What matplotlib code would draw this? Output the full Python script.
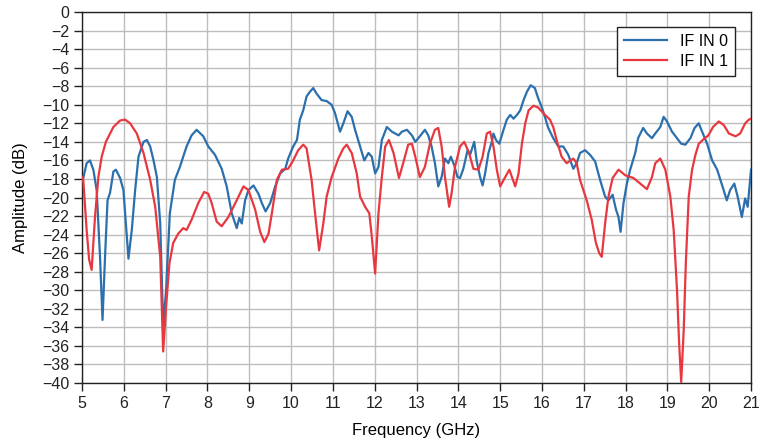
import matplotlib
matplotlib.use("Agg")
import matplotlib.pyplot as plt

plt.rcParams['font.family'] = ['Liberation Sans', 'DejaVu Sans']

# IF IN 0 (blue)
freq0 = [5.00, 5.03, 5.11, 5.19, 5.27, 5.35, 5.43, 5.49, 5.55, 5.61, 5.67, 5.75, 5.81, 5.91, 5.99,
         6.11, 6.19, 6.27, 6.35, 6.47, 6.55, 6.63, 6.71, 6.79, 6.87, 6.94, 7.01, 7.10, 7.22, 7.34,
         7.50, 7.62, 7.74, 7.90, 8.02, 8.18, 8.34, 8.46, 8.58, 8.70, 8.76, 8.82, 8.90, 8.98, 9.10,
         9.22, 9.30, 9.39, 9.50, 9.62, 9.74, 9.86, 9.93, 10.05, 10.14, 10.21, 10.29, 10.37, 10.45,
         10.53, 10.61, 10.73, 10.85, 10.97, 11.05, 11.17, 11.25, 11.35, 11.45, 11.53, 11.65, 11.75,
         11.85, 11.93, 12.01, 12.09, 12.17, 12.29, 12.41, 12.57, 12.65, 12.77, 12.89, 12.97, 13.08,
         13.20, 13.28, 13.36, 13.44, 13.52, 13.60, 13.68, 13.76, 13.82, 13.90, 13.98, 14.04, 14.12,
         14.22, 14.28, 14.38, 14.44, 14.52, 14.58, 14.64, 14.72, 14.80, 14.84, 14.90, 14.98, 15.08,
         15.16, 15.24, 15.32, 15.40, 15.48, 15.56, 15.64, 15.73, 15.83, 15.91, 15.99, 16.07, 16.15,
         16.27, 16.39, 16.51, 16.63, 16.75, 16.83, 16.91, 17.03, 17.15, 17.27, 17.39, 17.51, 17.59,
         17.69, 17.77, 17.83, 17.88, 17.95, 18.03, 18.11, 18.23, 18.30, 18.42, 18.51, 18.63, 18.71,
         18.83, 18.91, 18.99, 19.11, 19.23, 19.33, 19.43, 19.55, 19.65, 19.75, 19.83, 19.95, 20.07,
         20.19, 20.31, 20.42, 20.50, 20.60, 20.68, 20.78, 20.86, 20.92, 21.00]
amp0 = [-18.2, -17.9, -16.3, -16.0, -17.0, -19.2, -26.4, -33.2, -26.4, -20.3, -19.5, -17.2, -17.0, -17.9, -19.2,
        -26.6, -23.5, -19.2, -15.6, -14.0, -13.8, -14.5, -16.0, -17.8, -22.8, -33.8, -30.0, -21.7, -18.1, -16.7,
        -14.5, -13.3, -12.7, -13.4, -14.5, -15.4, -16.9, -18.8, -21.7, -23.3, -22.2, -22.8, -20.3, -19.2, -18.7,
        -19.6, -20.6, -21.5, -20.6, -18.8, -17.4, -16.9, -15.8, -14.5, -13.8, -11.6, -10.6, -9.1, -8.6,
        -8.2, -8.8, -9.5, -9.6, -10.0, -10.9, -12.9, -12.0, -10.7, -11.3, -12.7, -14.5, -16.0,
        -15.2, -15.6, -17.4, -16.7, -13.8, -12.4, -12.9, -13.3, -12.9, -12.7, -13.3, -14.0, -13.4,
        -12.7, -13.3, -14.5, -16.3, -18.8, -17.8, -15.8, -16.3, -15.6, -16.5, -17.8, -17.9, -16.9,
        -14.9, -15.4, -14.0, -16.1, -17.8, -18.7, -17.4, -15.2, -14.0, -13.1, -13.8, -14.2, -12.7,
        -11.6, -11.1, -11.5, -11.1, -10.6, -9.5, -8.6, -7.9, -8.2, -9.3, -10.2, -11.3, -12.5,
        -13.6, -14.5, -14.5, -15.4, -16.9, -16.3, -15.2, -14.9, -15.4, -16.1, -18.1, -19.9, -20.3,
        -19.7, -21.3, -22.1, -23.7, -20.6, -18.5, -17.0, -15.2, -13.6, -12.5, -13.1, -13.6, -13.1,
        -12.4, -11.3, -11.8, -12.9, -13.6, -14.2, -14.3, -13.6, -12.5, -12.0, -12.9, -14.2, -16.0,
        -17.0, -18.7, -20.3, -19.2, -18.5, -19.9, -22.1, -20.1, -21.0, -17.0]

# IF IN 1 (red)
freq1 = [5.00, 5.03, 5.11, 5.17, 5.23, 5.31, 5.39, 5.47, 5.57, 5.75, 5.91, 6.03, 6.15, 6.31, 6.47,
         6.63, 6.75, 6.87, 6.94, 7.01, 7.09, 7.18, 7.30, 7.42, 7.50, 7.62, 7.78, 7.92, 8.02, 8.10,
         8.22, 8.34, 8.50, 8.70, 8.86, 8.98, 9.14, 9.26, 9.36, 9.46, 9.54, 9.66, 9.78, 9.93, 10.05,
         10.17, 10.29, 10.37, 10.49, 10.59, 10.67, 10.77, 10.85, 10.97, 11.13, 11.25, 11.33, 11.45,
         11.57, 11.65, 11.77, 11.87, 11.93, 12.01, 12.09, 12.17, 12.25, 12.34, 12.45, 12.58, 12.68,
         12.80, 12.89, 12.97, 13.08, 13.20, 13.32, 13.44, 13.52, 13.60, 13.68, 13.78, 13.84, 13.92,
         14.04, 14.14, 14.25, 14.36, 14.48, 14.58, 14.68, 14.76, 14.84, 14.92, 15.00, 15.12, 15.22,
         15.36, 15.44, 15.52, 15.60, 15.68, 15.80, 15.91, 16.03, 16.19, 16.27, 16.35, 16.47, 16.59,
         16.75, 16.83, 16.91, 17.07, 17.19, 17.29, 17.37, 17.43, 17.51, 17.59, 17.69, 17.83, 17.99,
         18.19, 18.35, 18.51, 18.63, 18.71, 18.83, 18.95, 19.07, 19.15, 19.23, 19.28, 19.33, 19.39,
         19.44, 19.51, 19.59, 19.67, 19.75, 19.87, 19.98, 20.09, 20.23, 20.35, 20.47, 20.63, 20.74,
         20.86, 20.95, 21.00]
amp1 = [-17.8, -18.1, -23.5, -26.7, -27.8, -22.1, -17.8, -15.6, -14.0, -12.4, -11.7, -11.6, -12.0, -13.1, -15.2,
        -18.1, -21.0, -26.4, -36.6, -31.8, -27.1, -24.9, -23.9, -23.3, -23.5, -22.4, -20.6, -19.4, -19.6, -20.6,
        -22.6, -23.1, -22.1, -20.3, -18.8, -19.2, -21.3, -23.7, -24.8, -23.9, -21.7, -18.1, -17.0, -16.9, -16.0,
        -14.9, -14.3, -14.7, -18.1, -22.4, -25.7, -22.8, -19.9, -17.8, -15.8, -14.7, -14.3, -15.2,
        -17.4, -19.9, -21.0, -21.7, -24.2, -28.2, -21.7, -17.8, -14.5, -13.8, -15.2, -17.9, -16.3,
        -14.3, -14.2, -15.6, -17.8, -16.7, -14.2, -12.7, -12.5, -14.5, -17.8, -21.0, -19.5, -16.7,
        -14.5, -14.0, -15.1, -16.9, -17.0, -15.6, -13.1, -12.9, -14.5, -17.0, -18.8, -17.8, -17.0,
        -18.8, -17.4, -14.2, -12.0, -10.6, -10.1, -10.3, -10.9, -11.6, -12.4, -13.8, -15.6, -16.3,
        -15.8, -16.3, -18.1, -20.3, -22.4, -24.9, -26.0, -26.4, -22.8, -19.9, -17.9, -17.0, -17.6,
        -17.9, -18.5, -19.1, -17.8, -16.3, -15.8, -17.0, -19.9, -23.5, -30.0, -35.7, -39.9, -34.3,
        -27.1, -19.9, -17.0, -15.4, -14.2, -13.7, -13.3, -12.4, -11.8, -12.2, -13.1, -13.4, -13.1,
        -12.0, -11.6, -11.5]

xticks = list(range(5, 22))
yticks = list(range(-40, 1, 2))
labels = ['IF IN 0', 'IF IN 1']

fig = plt.figure(figsize=(7.61, 4.43), dpi=100)
ax = fig.add_axes([0.1078, 0.1354, 0.8791, 0.8375])

ax.plot(freq0, amp0, color='#2b6fad', lw=1.6, label=labels[0], zorder=3)
ax.plot(freq1, amp1, color='#e8383f', lw=1.6, label=labels[1], zorder=3)

ax.set_xlim(5, 21)
ax.set_ylim(-40, 0)
ax.set_xticks(xticks)
ax.set_yticks(yticks)
ax.grid(True, color='#bdbdbd', lw=1.0, zorder=0)
ax.set_axisbelow(True)
ax.tick_params(direction='out', length=5.5, width=1, labelsize=11.5, colors='#222222', pad=3.5)
for s in ax.spines.values():
    s.set_color('#222222')
    s.set_linewidth(1.0)

ax.set_xlabel('Frequency (GHz)', fontsize=12, labelpad=9)
ax.set_ylabel('Amplitude (dB)', fontsize=12, labelpad=10)

leg = ax.legend(loc='upper right', bbox_to_anchor=(0.976, 0.96), fontsize=11.5,
                frameon=True, fancybox=False, edgecolor='#222222', framealpha=1,
                handlelength=2.7, handletextpad=0.8, borderpad=0.45, labelspacing=0.3,
                borderaxespad=0)
leg.get_frame().set_linewidth(1.0)

fig.savefig('out.png', dpi=100)
